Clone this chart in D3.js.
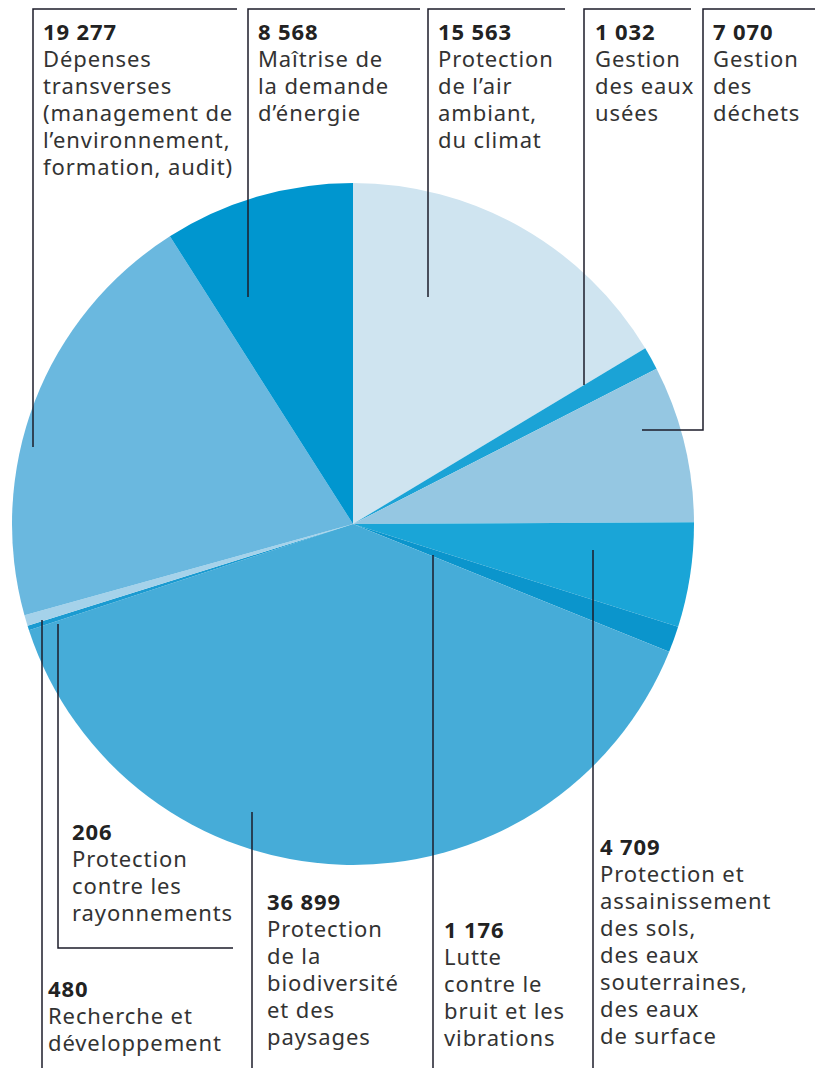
<!DOCTYPE html>
<html>
<head>
<meta charset="utf-8">
<script src="https://cdn.jsdelivr.net/npm/d3@7"></script>
<style>
  body { margin: 0; background: #fff; }
  text { font-family: "Noto Sans", Lato, sans-serif; }
</style>
</head>
<body>
<script>
// slices, clockwise from 12 o'clock
const categories = [
    "Protection de l'air ambiant, du climat",
    "Gestion des eaux usées",
    "Gestion des déchets",
    "Protection et assainissement des sols, des eaux souterraines, des eaux de surface",
    "Lutte contre le bruit et les vibrations",
    "Protection de la biodiversité et des paysages",
    "Protection contre les rayonnements",
    "Recherche et développement",
    "Dépenses transverses (management de l'environnement, formation, audit)",
    "Maîtrise de la demande d'énergie"
];
const values = [15563, 1032, 7070, 4709, 1176, 36899, 206, 480, 19277, 8568];

// wrapped label lines, as printed
const labelLines = [
    ["Protection", "de l’air", "ambiant,", "du climat"],
    ["Gestion", "des eaux", "usées"],
    ["Gestion", "des", "déchets"],
    ["Protection et", "assainissement", "des sols,", "des eaux", "souterraines,", "des eaux", "de surface"],
    ["Lutte", "contre le", "bruit et les", "vibrations"],
    ["Protection", "de la", "biodiversité", "et des", "paysages"],
    ["Protection", "contre les", "rayonnements"],
    ["Recherche et", "développement"],
    ["Dépenses", "transverses", "(management de", "l’environnement,", "formation, audit)"],
    ["Maîtrise de", "la demande", "d’énergie"]
];

const colors = ["#cfe4f0", "#1ba3d6", "#95c7e2", "#1aa5d7", "#0b95cc",
                "#46acd8", "#1b9bd1", "#a5d2ea", "#6ab8df", "#0096cf"];

// label placement: text anchor + leader path (annotation layout)
const labelLayout = [
    { tx: 438, ty: 40,  path: [[565, 9], [428, 9], [428, 297]] },
    { tx: 595, ty: 40,  path: [[691, 9], [584, 9], [584, 385]] },
    { tx: 713, ty: 40,  path: [[815, 9], [703, 9], [703, 430], [642, 430]] },
    { tx: 600, ty: 855, path: [[593, 550], [593, 1068]] },
    { tx: 444, ty: 938, path: [[433, 555], [433, 1068]] },
    { tx: 267, ty: 910, path: [[252, 812], [252, 1068]] },
    { tx: 72,  ty: 840, path: [[58, 624], [58, 948], [233, 948]] },
    { tx: 48,  ty: 997, path: [[42, 620], [42, 1068]] },
    { tx: 43,  ty: 40,  path: [[237, 9], [33, 9], [33, 447]] },
    { tx: 258, ty: 40,  path: [[420, 9], [248, 9], [248, 297]] }
];

const width = 815, height = 1068;
const cx = 353, cy = 524, radius = 341;
const lineH = 27;

const fr = d3.formatLocale({ decimal: ",", thousands: " ", grouping: [3], currency: ["", " €"] });
const fmt = fr.format(",d");

const svg = d3.select("body").append("svg")
    .attr("width", width)
    .attr("height", height);

const pie = d3.pie().sort(null).value(d => d)(values);
const arc = d3.arc().innerRadius(0).outerRadius(radius);

svg.append("g")
    .attr("transform", `translate(${cx},${cy})`)
    .selectAll("path")
    .data(pie)
    .join("path")
    .attr("d", arc)
    .attr("fill", (d, i) => colors[i]);

// leader lines
svg.append("g")
    .selectAll("path")
    .data(labelLayout)
    .join("path")
    .attr("d", d => d3.line()(d.path))
    .attr("fill", "none")
    .attr("stroke", "#1c1c2a")
    .attr("stroke-width", 1.5);

// labels
const labels = svg.append("g")
    .selectAll("text")
    .data(values)
    .join("text")
    .attr("x", (d, i) => labelLayout[i].tx)
    .attr("y", (d, i) => labelLayout[i].ty)
    .style("font-size", "22px")
    .style("letter-spacing", "0.9px")
    .attr("fill", "#333333");

labels.append("tspan")
    .attr("x", (d, i) => labelLayout[i].tx)
    .style("font-weight", "bold")
    .attr("fill", "#222222")
    .text(d => fmt(d));

labels.each(function(d, i) {
    d3.select(this).selectAll("tspan.line")
        .data(labelLines[i])
        .join("tspan")
        .attr("class", "line")
        .attr("x", labelLayout[i].tx)
        .attr("dy", lineH)
        .text(t => t);
});
</script>
</body>
</html>
